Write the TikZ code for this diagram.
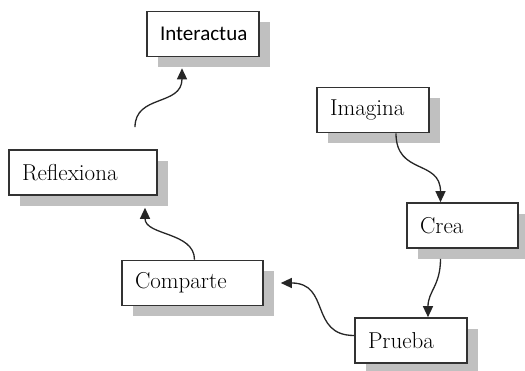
\documentclass[tikz,border=0pt]{standalone}
\usepackage{fontspec}
\newfontfamily\calibriFont{Carlito}
\usepackage{tikz}
\usetikzlibrary{
    positioning,
    arrows.meta,
    shadows
}
\definecolor{shadowGray}{RGB}{192, 192, 192}
\definecolor{borderGray}{RGB}{50, 50, 50}
\tikzset{
    box/.style={draw=borderGray, line width=1.6pt, fill=white,
        minimum height=45pt, inner xsep=13pt, inner ysep=2pt, align=left,
        font=\rmfamily\fontsize{23}{27}\selectfont,
        drop shadow={shadow xshift=11pt, shadow yshift=-11pt, fill=shadowGray, opacity=1}},
    flow/.style={line width=1.3pt, black!85, -{Triangle[length=11pt, width=10pt]}}
}

\begin{document}
\begin{tikzpicture}[x=1pt, y=-1pt]
        \useasboundingbox (0,0) rectangle (525,371);
        \node[box, text width=86pt, font=\calibriFont\fontsize{21}{25}\selectfont] (interactua) at (203,34) {Interactua};
        \node[box, text width=86pt] (imagina) at (373,110) {Imagina};
        \node[box, text width=85pt] (crea) at (462.5,225.5) {Crea};
        \node[box, text width=122pt] (reflexiona) at (83,172.5) {Reflexiona};
        \node[box, text width=115pt] (comparte) at (192.5,283) {Comparte};
        \node[box, text width=86pt] (prueba) at (411,340.5) {Prueba};
        % ciclo
        \draw[flow] ([xshift=23pt]imagina.south) .. controls +(0,42) and +(0,-43) .. ([xshift=-22pt]crea.north);
        \draw[flow] ([shift={(-22,10)}]crea.south) .. controls +(0,27) and +(0,-26) .. ([xshift=17pt]prueba.north);
        \draw[flow] ([shift={(0,-5)}]prueba.west) .. controls +(-45,0) and +(50,0) .. ([xshift=17pt]comparte.east);
        \draw[flow] ([xshift=2pt]comparte.north) .. controls +(0,-28) and +(0,28) .. ([shift={(62,12)}]reflexiona.south);
        \draw[flow] ([shift={(52,-22)}]reflexiona.north) .. controls +(0,-33) and +(0,38) .. ([shift={(-21,11)}]interactua.south);
    \end{tikzpicture}
\end{document}
